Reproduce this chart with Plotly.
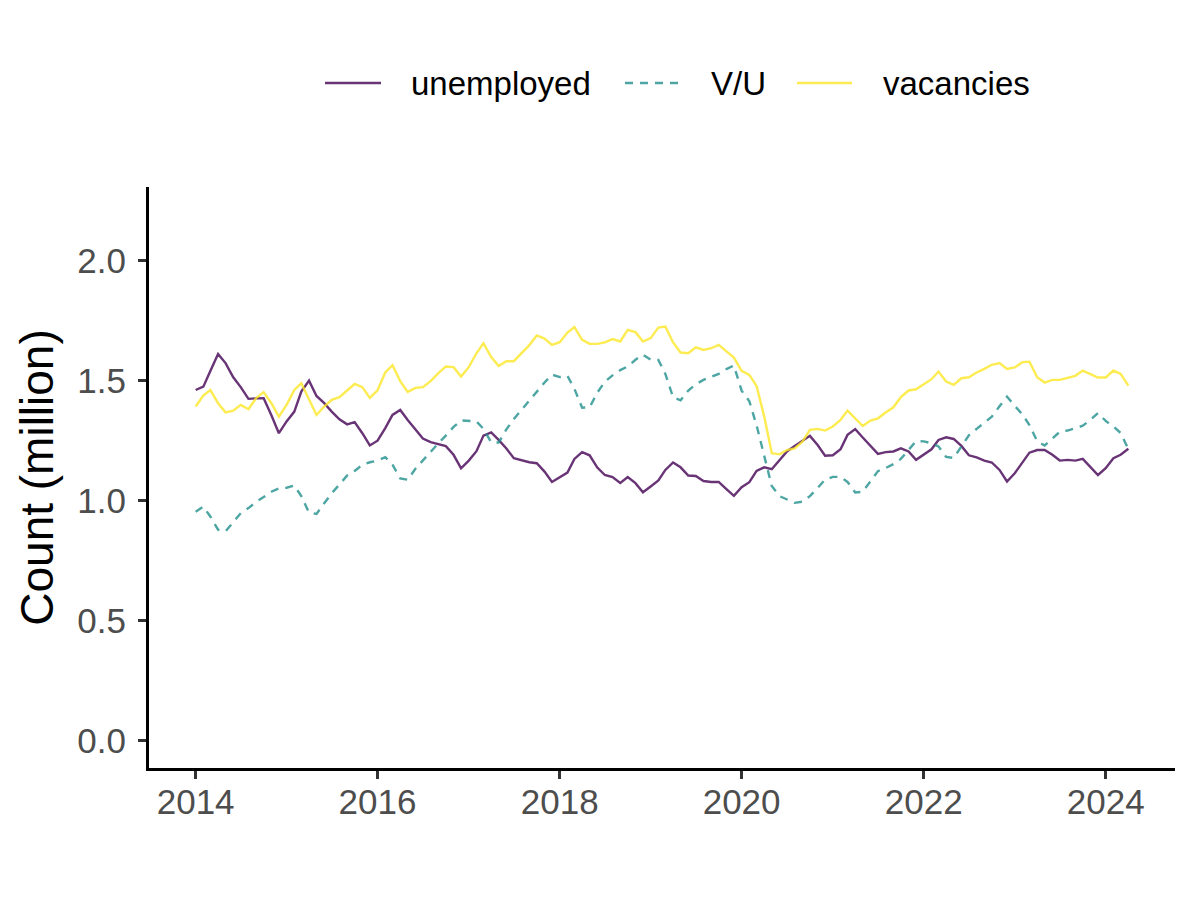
import pandas as pd
import plotly.graph_objects as go

# ---- data (monthly, Jan 2014 - Apr 2024), millions ----
months = pd.date_range("2014-01-01", periods=124, freq="MS")

unemployed = [
    1.462, 1.476, 1.541, 1.612, 1.574, 1.515, 1.474, 1.425, 1.427, 1.428, 1.357, 1.282,
    1.331, 1.372, 1.455, 1.501, 1.437, 1.407, 1.372, 1.340, 1.319, 1.328, 1.282, 1.231,
    1.251, 1.303, 1.358, 1.379, 1.337, 1.299, 1.260, 1.245, 1.236, 1.228, 1.192, 1.136,
    1.168, 1.207, 1.272, 1.285, 1.254, 1.218, 1.178, 1.168, 1.161, 1.157, 1.122, 1.079,
    1.097, 1.118, 1.175, 1.203, 1.190, 1.139, 1.108, 1.099, 1.075, 1.099, 1.074, 1.036,
    1.060, 1.085, 1.129, 1.160, 1.140, 1.106, 1.104, 1.083, 1.079, 1.079, 1.049, 1.021,
    1.057, 1.078, 1.125, 1.140, 1.132, 1.171, 1.206, 1.229, 1.251, 1.271, 1.233, 1.188,
    1.190, 1.215, 1.275, 1.299, 1.264, 1.231, 1.196, 1.203, 1.206, 1.219, 1.206, 1.171,
    1.192, 1.215, 1.254, 1.265, 1.258, 1.229, 1.190, 1.181, 1.168, 1.160, 1.129, 1.081,
    1.115, 1.160, 1.201, 1.212, 1.212, 1.192, 1.168, 1.171, 1.168, 1.175, 1.143, 1.108,
    1.136, 1.178, 1.192, 1.217,
]

vacancies = [
    1.393, 1.439, 1.462, 1.407, 1.369, 1.376, 1.400, 1.382, 1.428, 1.453, 1.407, 1.351,
    1.400, 1.462, 1.490, 1.421, 1.358, 1.393, 1.421, 1.432, 1.462, 1.487, 1.474, 1.429,
    1.461, 1.535, 1.565, 1.499, 1.454, 1.471, 1.474, 1.499, 1.532, 1.560, 1.557, 1.518,
    1.557, 1.615, 1.657, 1.599, 1.562, 1.582, 1.582, 1.614, 1.649, 1.689, 1.676, 1.650,
    1.661, 1.701, 1.724, 1.671, 1.654, 1.654, 1.660, 1.674, 1.664, 1.712, 1.703, 1.664,
    1.678, 1.722, 1.726, 1.660, 1.618, 1.615, 1.640, 1.629, 1.636, 1.650, 1.625, 1.597,
    1.542, 1.525, 1.479, 1.350, 1.199, 1.194, 1.212, 1.219, 1.247, 1.296, 1.300, 1.293,
    1.310, 1.337, 1.376, 1.344, 1.312, 1.335, 1.344, 1.368, 1.390, 1.432, 1.460, 1.465,
    1.487, 1.507, 1.539, 1.497, 1.483, 1.511, 1.515, 1.535, 1.550, 1.567, 1.574, 1.550,
    1.556, 1.578, 1.580, 1.515, 1.493, 1.504, 1.504, 1.514, 1.521, 1.543, 1.529, 1.514,
    1.514, 1.543, 1.529, 1.480,
]

vu_ratio = [
    0.955, 0.976, 0.935, 0.880, 0.873, 0.911, 0.949, 0.970, 0.996, 1.016, 1.038, 1.052,
    1.055, 1.064, 1.020, 0.951, 0.946, 0.990, 1.032, 1.068, 1.106, 1.125, 1.150, 1.161,
    1.168, 1.182, 1.151, 1.094, 1.088, 1.134, 1.170, 1.205, 1.240, 1.272, 1.308, 1.335,
    1.333, 1.331, 1.300, 1.244, 1.243, 1.298, 1.341, 1.380, 1.419, 1.457, 1.493, 1.526,
    1.516, 1.521, 1.467, 1.388, 1.390, 1.451, 1.496, 1.523, 1.545, 1.560, 1.588, 1.609,
    1.588, 1.587, 1.529, 1.431, 1.419, 1.460, 1.486, 1.504, 1.516, 1.529, 1.549, 1.564,
    1.459, 1.415, 1.315, 1.190, 1.062, 1.020, 1.005, 0.992, 0.997, 1.020, 1.054, 1.089,
    1.100, 1.100, 1.079, 1.035, 1.038, 1.084, 1.124, 1.137, 1.153, 1.175, 1.211, 1.249,
    1.248, 1.240, 1.227, 1.183, 1.179, 1.229, 1.273, 1.300, 1.327, 1.351, 1.394, 1.434,
    1.396, 1.360, 1.316, 1.249, 1.231, 1.262, 1.288, 1.293, 1.302, 1.313, 1.338, 1.366,
    1.333, 1.310, 1.283, 1.216,
]

series_names = ["unemployed", "V/U", "vacancies"]
series_values = [unemployed, vu_ratio, vacancies]
series_colors = ["rgba(68,1,84,0.8)", "rgba(33,144,140,0.8)", "rgba(253,231,37,0.8)"]
series_dash = ["solid", "8px,7px", "solid"]

y_tick_vals = [0.0, 0.5, 1.0, 1.5, 2.0]
y_tick_text = ["0.0", "0.5", "1.0", "1.5", "2.0"]
x_tick_years = [2014, 2016, 2018, 2020, 2022, 2024]

FONT = "Liberation Sans"

fig = go.Figure()
for name, vals, col, dash in zip(series_names, series_values, series_colors, series_dash):
    fig.add_trace(go.Scatter(
        x=months, y=vals, mode="lines", name=name,
        line=dict(color=col, width=2.4, dash=dash),
        showlegend=False,
    ))

# manual legend above the plot (ggplot style, top)
legend_x = [(325, 381, 409), (625, 680, 709), (797, 852, 881)]
plot_l, plot_r, plot_t, plot_b = 149, 1175, 187, 768
def px_x(p):
    return (p - plot_l) / (plot_r - plot_l)
leg_y = (plot_b - 83) / (plot_b - plot_t)
for (x0, x1, xt), name, col, dash in zip(legend_x, series_names, series_colors, series_dash):
    fig.add_shape(type="line", xref="paper", yref="paper",
                  x0=px_x(x0), x1=px_x(x1), y0=leg_y, y1=leg_y,
                  line=dict(color=col, width=2.5, dash=dash))
    fig.add_annotation(xref="paper", yref="paper", x=px_x(xt), y=leg_y,
                       text=name, showarrow=False, xanchor="left", yanchor="middle",
                       font=dict(family=FONT, size=33, color="black"))

span = months[-1] - months[0]
x_range = [months[0] - span * 0.05, months[-1] + span * 0.05]

axis_common = dict(
    showline=True, linecolor="black", linewidth=3,
    ticks="outside", ticklen=8, tickwidth=2.5, tickcolor="#333333",
    showgrid=False, zeroline=False,
    tickfont=dict(family=FONT, size=35, color="#4D4D4D"),
)

fig.update_layout(
    width=1200, height=900,
    margin=dict(l=plot_l, r=1200 - plot_r, t=plot_t, b=900 - plot_b),
    plot_bgcolor="white", paper_bgcolor="white",
    font=dict(family=FONT),
    xaxis=dict(
        type="date", range=x_range,
        tickvals=[pd.Timestamp(f"{y}-01-01") for y in x_tick_years],
        ticktext=[str(y) for y in x_tick_years],
        ticklabelstandoff=-7,
        **axis_common,
    ),
    yaxis=dict(
        range=[-0.1125, 2.3075],
        tickvals=y_tick_vals, ticktext=y_tick_text,
        ticklabelstandoff=5,
        title=dict(text="Count (million)", font=dict(family=FONT, size=46, color="black"), standoff=10),
        **axis_common,
    ),
)

fig.write_html(
    "out.html",
    config={"displayModeBar": False},
    post_script="document.body.style.margin='0';document.body.style.overflow='hidden';",
)
